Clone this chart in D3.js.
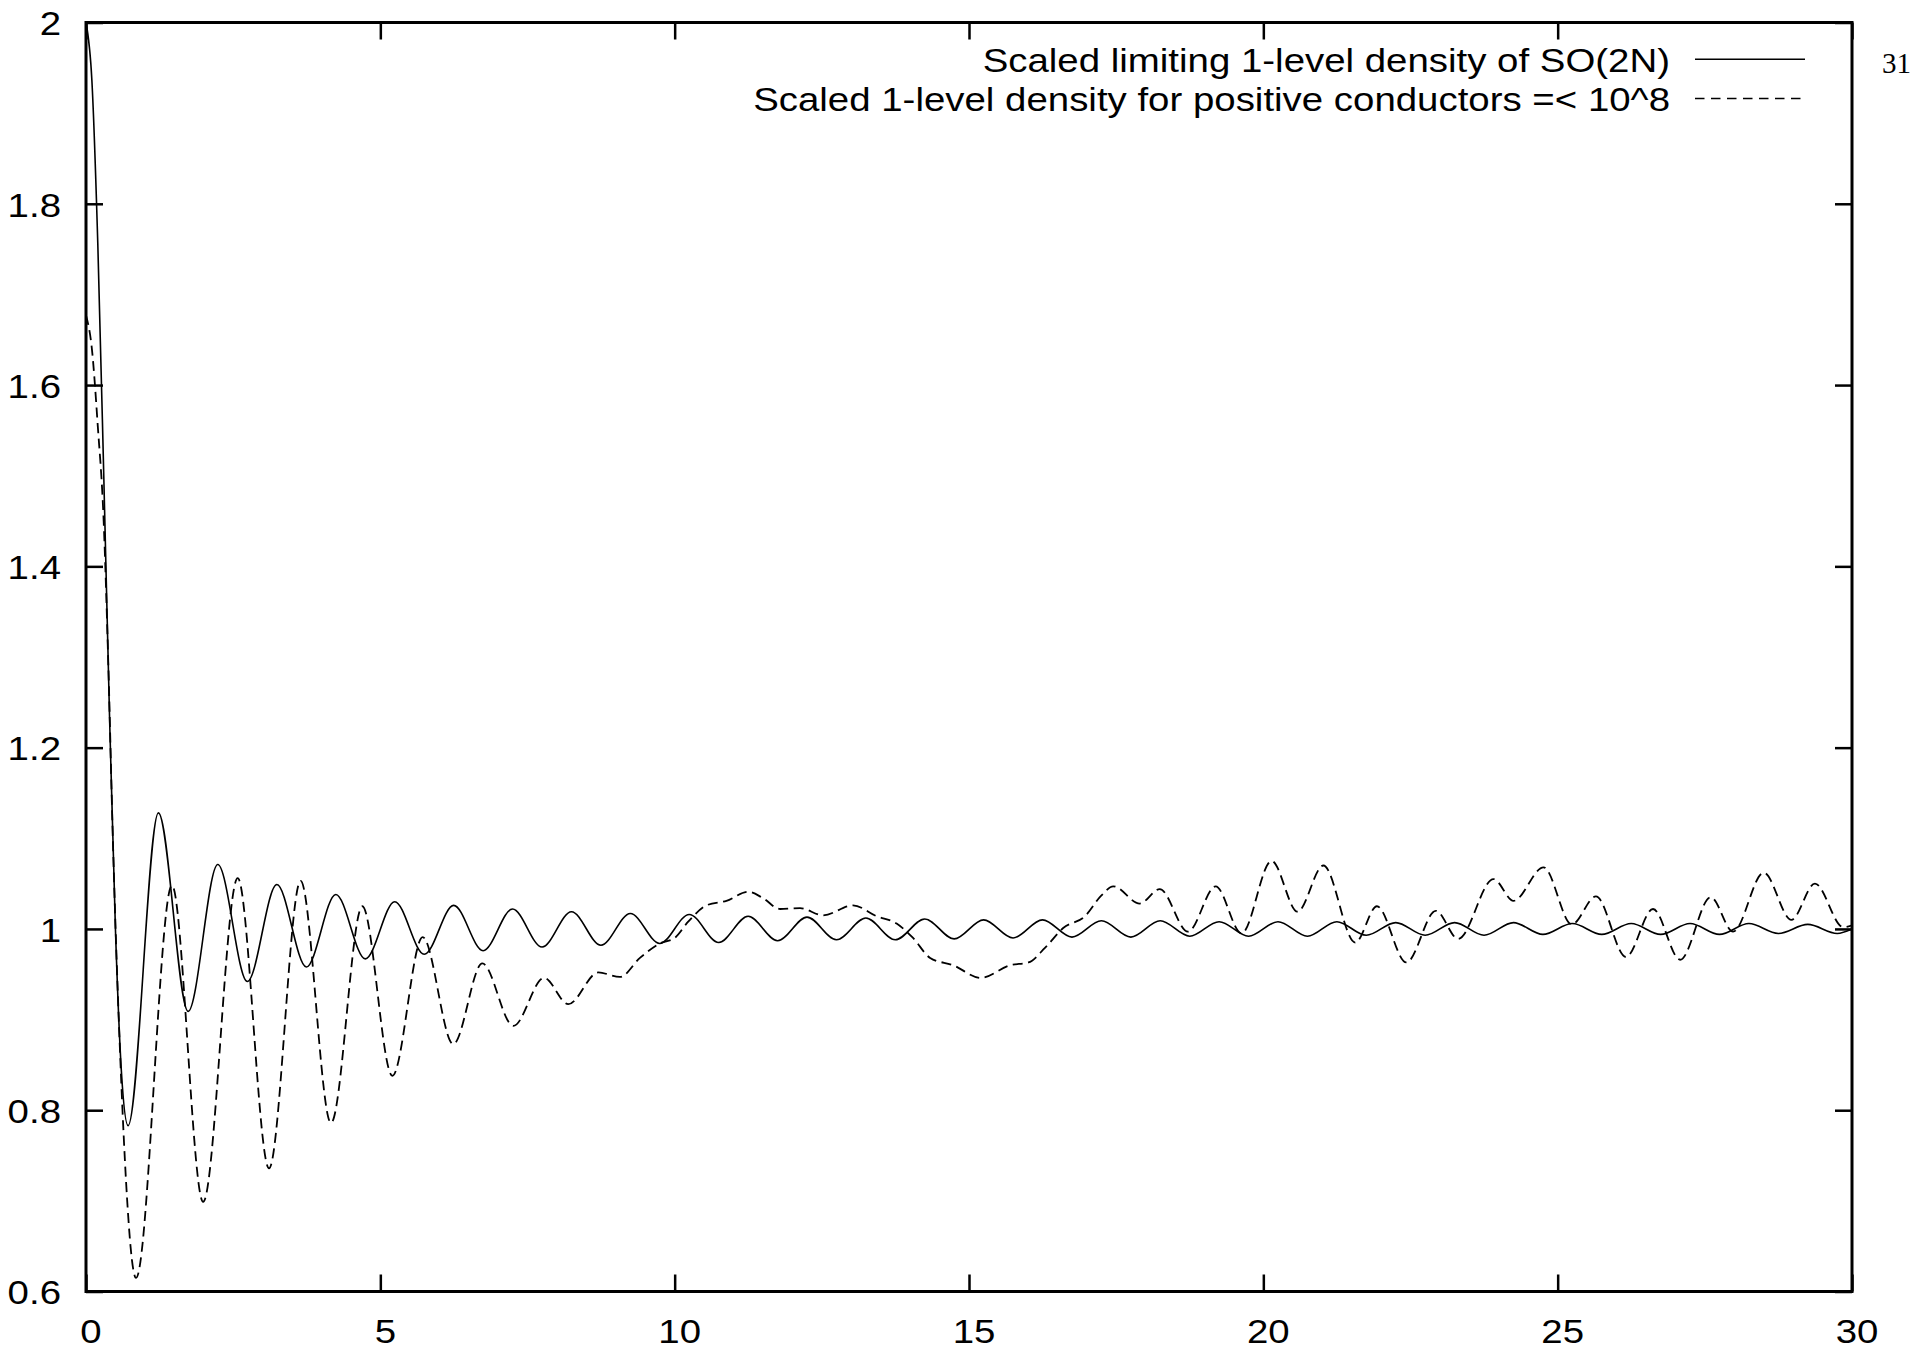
<!DOCTYPE html>
<html>
<head>
<meta charset="utf-8">
<script src="https://cdn.jsdelivr.net/npm/d3@7/dist/d3.min.js"></script>
<style>
  html, body { margin: 0; padding: 0; background: #fff; }
  svg { display: block; }
</style>
</head>
<body>
<svg id="chart" width="1923" height="1350"></svg>
<script>
// Limiting 1-level density of SO(2N), scaled: [x, density]
const soDensity = [
  [0, 2.000], [0.1, 1.936], [0.2, 1.757], [0.3, 1.505], [0.4, 1.234], [0.5, 1.000], [0.6, 0.844],
  [0.715, 0.783], [1.230, 1.128], [1.735, 0.909], [2.239, 1.071], [2.741, 0.942], [3.242, 1.049],
  [3.743, 0.958], [4.244, 1.038], [4.745, 0.967], [5.245, 1.030], [5.746, 0.972], [6.246, 1.026],
  [6.746, 0.976], [7.246, 1.022], [7.747, 0.980], [8.247, 1.019], [8.747, 0.982], [9.247, 1.017],
  [9.747, 0.984], [10.248, 1.016], [10.748, 0.985], [11.248, 1.014], [11.748, 0.987], [12.248, 1.013],
  [12.748, 0.988], [13.248, 1.012], [13.748, 0.988], [14.248, 1.011], [14.748, 0.989], [15.248, 1.010],
  [15.748, 0.990], [16.248, 1.010], [16.749, 0.991], [17.249, 1.009], [17.749, 0.991], [18.249, 1.009],
  [18.749, 0.992], [19.249, 1.008], [19.749, 0.992], [20.249, 1.008], [20.749, 0.992], [21.249, 1.008],
  [21.749, 0.993], [22.249, 1.007], [22.749, 0.993], [23.249, 1.007], [23.749, 0.993], [24.249, 1.007],
  [24.749, 0.994], [25.249, 1.006], [25.749, 0.994], [26.249, 1.006], [26.749, 0.994], [27.249, 1.006],
  [27.749, 0.994], [28.249, 1.006], [28.749, 0.995], [29.249, 1.005], [29.749, 0.995], [30, 1.000]
];

// Scaled 1-level density for positive conductors up to 10^8: [x, density]
const conductorDensity = [
  [0, 1.677], [0.1, 1.640], [0.2, 1.555], [0.3, 1.450], [0.38, 1.290], [0.46, 1.090],
  [0.54, 0.930], [0.62, 0.800], [0.70, 0.700], [0.78, 0.635], [0.85, 0.615],
  [1.46, 1.048], [1.99, 0.699], [2.577, 1.056], [3.109, 0.736], [3.646, 1.053],
  [4.162, 0.786], [4.694, 1.025], [5.204, 0.838], [5.719, 0.991], [6.239, 0.873],
  [6.732, 0.962], [7.259, 0.893], [7.78, 0.946], [8.193, 0.917], [8.703, 0.952],
  [9.07, 0.947], [9.41, 0.968], [9.75, 0.984], [10.0, 0.990], [10.23, 1.008],
  [10.54, 1.026], [10.88, 1.031], [11.25, 1.041], [11.50, 1.034], [11.79, 1.022],
  [12.13, 1.023], [12.52, 1.015], [13.03, 1.026], [13.43, 1.014], [13.77, 1.006],
  [14.05, 0.990], [14.34, 0.968], [14.73, 0.960], [15.20, 0.946], [15.70, 0.960],
  [16.01, 0.963], [16.29, 0.979], [16.60, 1.001], [16.97, 1.014], [17.25, 1.037],
  [17.45, 1.047], [17.90, 1.028], [18.24, 1.044], [18.72, 0.997], [19.19, 1.047],
  [19.63, 0.995], [20.14, 1.075], [20.58, 1.019], [21.02, 1.070], [21.56, 0.985],
  [21.93, 1.025], [22.43, 0.963], [22.93, 1.020], [23.31, 0.989], [23.91, 1.055],
  [24.25, 1.031], [24.76, 1.068], [25.24, 1.005], [25.65, 1.036], [26.16, 0.969],
  [26.62, 1.022], [27.08, 0.966], [27.60, 1.035], [27.98, 0.997], [28.50, 1.062],
  [28.97, 1.010], [29.37, 1.050], [29.85, 1.002], [30, 1.004]
];

const xTicks = [0, 5, 10, 15, 20, 25, 30];
const yTicks = [0.6, 0.8, 1.0, 1.2, 1.4, 1.6, 1.8, 2.0];
const legendLabels = [
  "Scaled limiting 1-level density of SO(2N)",
  "Scaled 1-level density for positive conductors =< 10^8"
];
const pageNumber = "31";

const W = 1923, H = 1350;
const plot = { left: 86, right: 1852, top: 22.5, bottom: 1291.5 };
const FONT = "'Liberation Sans', Arial, Helvetica, sans-serif";
const FS = 34;          // label font size
const STRETCH = 1.13;   // horizontal widening of the label glyphs

const svg = d3.select("#chart");
svg.append("rect").attr("width", W).attr("height", H).attr("fill", "#fff");

const x = d3.scaleLinear().domain([0, 30]).range([plot.left, plot.right]);
const y = d3.scaleLinear().domain([0.6, 2]).range([plot.bottom, plot.top]);

const fmt = d => String(+d.toFixed(1));

function styleAxis(g) {
  g.select(".domain").remove();
  g.selectAll(".tick line").attr("stroke", "#000").attr("stroke-width", 2.5);
  g.selectAll(".tick text")
    .attr("fill", "#000")
    .attr("font-family", FONT)
    .attr("font-size", FS);
}

// left axis with labels (ticks point inward)
const gLeft = svg.append("g")
  .attr("transform", `translate(${plot.left},0)`)
  .call(d3.axisLeft(y).tickValues(yTicks).tickFormat(fmt).tickSize(-17).tickPadding(25))
  .call(styleAxis);
gLeft.selectAll(".tick text")
  .attr("dy", "0.36em")
  .attr("transform", `translate(-25,0) scale(${STRETCH},1) translate(25,0)`);

// bottom axis with labels
const gBottom = svg.append("g")
  .attr("transform", `translate(0,${plot.bottom})`)
  .call(d3.axisBottom(x).tickValues(xTicks).tickFormat(d3.format("d")).tickSize(-17).tickPadding(27))
  .call(styleAxis);
gBottom.selectAll(".tick text")
  .attr("transform", `translate(4.5,0) scale(${STRETCH},1)`);

// mirrored ticks on top and right
svg.append("g")
  .attr("transform", `translate(0,${plot.top})`)
  .call(d3.axisTop(x).tickValues(xTicks).tickFormat("").tickSize(-17))
  .call(styleAxis);
svg.append("g")
  .attr("transform", `translate(${plot.right},0)`)
  .call(d3.axisRight(y).tickValues(yTicks).tickFormat("").tickSize(-17))
  .call(styleAxis);

// clip region for the curves
svg.append("clipPath").attr("id", "plot-clip")
  .append("rect")
  .attr("x", plot.left).attr("y", plot.top)
  .attr("width", plot.right - plot.left).attr("height", plot.bottom - plot.top);

const line = d3.line()
  .x(d => x(d[0]))
  .y(d => y(d[1]))
  .curve(d3.curveMonotoneX);

const curves = svg.append("g").attr("clip-path", "url(#plot-clip)");
curves.append("path")
  .datum(soDensity)
  .attr("d", line)
  .attr("fill", "none")
  .attr("stroke", "#000")
  .attr("stroke-width", 1.6);
curves.append("path")
  .datum(conductorDensity)
  .attr("d", line)
  .attr("fill", "none")
  .attr("stroke", "#000")
  .attr("stroke-width", 1.8)
  .attr("stroke-dasharray", "10,5.5");

// plot frame
svg.append("rect")
  .attr("x", plot.left).attr("y", plot.top)
  .attr("width", plot.right - plot.left).attr("height", plot.bottom - plot.top)
  .attr("fill", "none")
  .attr("stroke", "#000")
  .attr("stroke-width", 3);

// key: right-aligned labels with sample strokes
const key = svg.append("g");
const keyRows = [
  { label: legendLabels[0], dash: null, cy: 59.3, width: 1.6 },
  { label: legendLabels[1], dash: "9.5,6.5", cy: 98.5, width: 1.4 }
];
keyRows.forEach(r => {
  key.append("text")
    .attr("transform", `translate(1670,${r.cy + 12.2}) scale(${STRETCH},1)`)
    .attr("text-anchor", "end")
    .attr("font-family", FONT)
    .attr("font-size", FS)
    .attr("fill", "#000")
    .text(r.label);
  key.append("line")
    .attr("x1", 1695).attr("x2", 1805)
    .attr("y1", r.cy).attr("y2", r.cy)
    .attr("stroke", "#000")
    .attr("stroke-width", r.width)
    .attr("stroke-dasharray", r.dash);
});

// page number beside the frame
svg.append("text")
  .attr("x", 1882).attr("y", 72.7)
  .attr("font-family", "'Liberation Serif', 'Times New Roman', serif")
  .attr("font-size", 29)
  .attr("fill", "#000")
  .text(pageNumber);
</script>
</body>
</html>
